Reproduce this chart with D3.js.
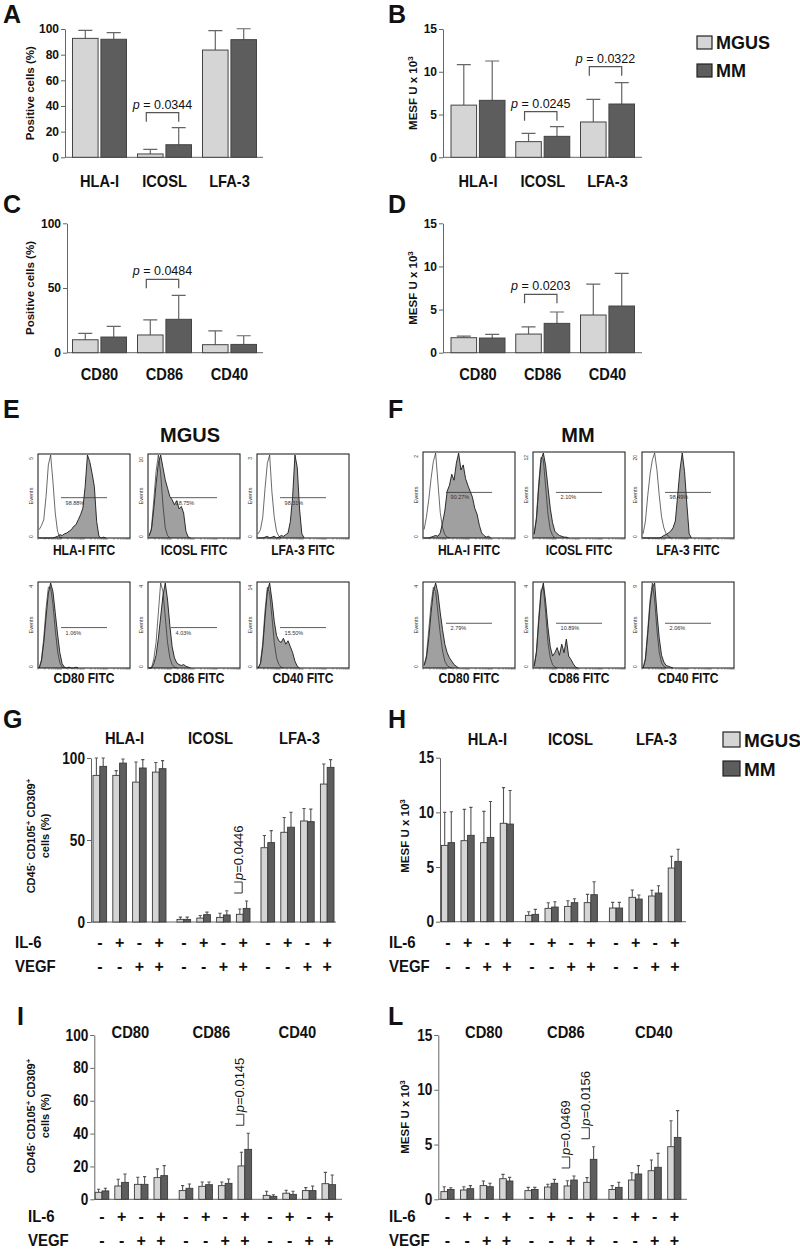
<!DOCTYPE html>
<html><head><meta charset="utf-8">
<script src="https://cdn.jsdelivr.net/npm/d3@7"></script>
<style>
body{margin:0;background:#fff}
svg{display:block}
text{font-family:"Liberation Sans",Arial,Helvetica,sans-serif}
</style>
</head><body>
<svg id="chart" width="800" height="1249"></svg>
<script>
// ---------------- DATA ----------------
const seriesNames = ["MGUS", "MM"];
const markersAB = ["HLA-I", "ICOSL", "LFA-3"];
const markersCD = ["CD80", "CD86", "CD40"];

// Panel A: positive cells (%)
const aMGUS = [92.7, 2.6, 83.6], aMGUSsd = [6.3, 3.6, 15.1];
const aMM = [92.0, 9.8, 91.7], aMMsd = [5.1, 13.3, 8.5];
// Panel B: MESF U x 10^3
const bMGUS = [6.1, 1.83, 4.13], bMGUSsd = [4.73, 0.97, 2.65];
const bMM = [6.66, 2.45, 6.23], bMMsd = [4.6, 1.13, 2.5];
// Panel C
const cMGUS = [10.0, 13.7, 6.2], cMGUSsd = [5.0, 11.6, 10.6];
const cMM = [12.1, 25.8, 6.4], cMMsd = [8.3, 18.5, 6.7];
// Panel D
const dMGUS = [1.74, 2.16, 4.37], dMGUSsd = [0.19, 0.84, 3.59];
const dMM = [1.70, 3.40, 5.41], dMMsd = [0.43, 1.32, 3.79];

// p-value annotations (bracket level in data units)
const pA = [{cat: "ICOSL", p: "0.0344", at: 34.8}];
const pB = [{cat: "ICOSL", p: "0.0245", at: 5.33}, {cat: "LFA-3", p: "0.0322", at: 10.6}];
const pC = [{cat: "CD86", p: "0.0484", at: 56.7}];
const pD = [{cat: "CD86", p: "0.0203", at: 6.77}];

// culture conditions
const il6 = ["-", "+", "-", "+"];
const vegf = ["-", "-", "+", "+"];

// Panel G (% positive), order: group x condition
const gMGUS = [89.4, 89.4, 85.3, 91.4, 1.6, 2.4, 2.8, 4.7, 45.3, 54.7, 61.6, 84.1];
const gMGUSsd = [10.6, 2.9, 12.3, 5.9, 1.4, 1.6, 2.5, 3.2, 7.4, 9.0, 7.6, 12.2];
const gMM = [94.9, 96.9, 93.9, 93.5, 1.6, 4.5, 4.3, 8.3, 48.4, 57.8, 61.2, 94.3];
const gMMsd = [5.1, 2.5, 5.1, 4.9, 1.4, 1.5, 2.6, 4.5, 7.3, 9.1, 7.6, 4.7];
// Panel H (MESF)
const hMGUS = [6.98, 7.41, 7.23, 9.0, 0.58, 1.22, 1.4, 1.74, 1.25, 2.23, 2.35, 4.91];
const hMGUSsd = [3.02, 2.86, 2.86, 3.26, 0.33, 0.52, 0.52, 0.76, 0.52, 0.67, 0.52, 1.07];
const hMM = [7.23, 7.9, 7.71, 8.93, 0.67, 1.34, 1.74, 2.47, 1.25, 2.07, 2.62, 5.52];
const hMMsd = [2.83, 2.56, 3.29, 3.07, 0.46, 0.49, 0.36, 1.19, 0.52, 0.37, 0.67, 1.1];
// Panel I (%)
const iMGUS = [4.26, 8.1, 9.1, 13.2, 5.3, 7.9, 8.3, 20.3, 2.4, 3.7, 5.3, 9.5];
const iMGUSsd = [1.84, 4.1, 4.3, 5.3, 3.0, 2.6, 2.2, 8.3, 2.5, 1.8, 1.8, 6.9];
const iMM = [5.1, 10.3, 9.1, 14.4, 6.7, 8.9, 9.7, 30.4, 1.8, 3.0, 5.3, 8.9];
const iMMsd = [1.6, 5.1, 4.7, 6.1, 2.6, 1.6, 2.7, 9.8, 1.0, 1.9, 2.8, 5.9];
// Panel L (MESF)
const lMGUS = [0.7, 0.85, 1.25, 1.88, 0.79, 1.12, 1.22, 1.55, 0.9, 1.76, 2.61, 4.8];
const lMGUSsd = [0.45, 0.3, 0.42, 0.4, 0.3, 0.25, 0.48, 0.43, 0.35, 0.67, 0.98, 2.37];
const lMM = [0.9, 0.97, 1.15, 1.67, 0.9, 1.46, 1.76, 3.65, 1.09, 2.31, 2.92, 5.65];
const lMMsd = [0.15, 0.28, 0.31, 0.33, 0.19, 0.36, 0.37, 1.15, 0.46, 0.76, 1.27, 2.45];

const pG = [{group: "ICOSL", cond: 3, p: "0.0446"}];
const pI = [{group: "CD86", cond: 3, p: "0.0145"}];
const pL = [{group: "CD86", cond: 2, p: "0.0469"}, {group: "CD86", cond: 3, p: "0.0156"}];

// Flow cytometry histograms (relative counts per bin, 40 bins across the box)
const eHLAfill = [0,0,0,0,0,0,0,1,2,4,3,5,6,8,10,14,16,22,28,36,62,100,92,78,62,20,2,0,1,0];
const eHLAopen = [10,15,22,50,88,100,68,30,8,1,0];
const eICOfill = [3,10,35,65,90,100,85,70,60,50,46,40,45,35,38,30,8,1,0];
const eICOopen = [2,12,45,80,100,78,40,12,3,0];
const eLFAfill = [0,0,0,1,2,0,1,2,0,1,3,2,4,6,20,50,100,85,35,5,0];
const eLFAopen = [5,10,25,60,90,100,55,25,8,2,0];
const eCD80fill = [0,8,30,60,88,100,90,65,40,18,5,1,0,1,0,0,1,0];
const eCD80open = [0,10,35,70,95,95,75,45,20,6,1,0];
const eCD86fill = [0,0,5,15,35,60,85,100,80,50,25,12,6,4,3,4,2,1,0];
const eCD86open = [0,0,10,30,65,100,90,60,30,12,4,1,0];
const eCD40fill = [0,5,25,60,90,100,80,55,38,32,30,35,28,32,25,18,8,2,0];
const eCD40open = [0,6,30,68,95,88,60,30,12,4,1,0];
const fHLAfill = [0,0,0,1,2,3,2,6,18,32,55,62,75,68,88,100,80,86,70,62,55,48,35,28,15,6,3,1,2,0];
const fHLAopen = [10,25,45,70,90,100,65,30,12,4,1,0];
const fICOfill = [5,22,60,92,100,85,60,35,18,8,5,3,2,1,1,0];
const fICOopen = [4,25,65,95,92,60,28,10,3,0];
const fLFAfill = [0,0,0,0,0,0,0,0,1,3,4,6,8,12,20,50,80,100,78,40,5,0];
const fLFAopen = [5,20,50,75,92,100,80,50,25,12,5,2,0];
const fCD80fill = [3,12,35,65,90,100,88,65,45,28,18,12,8,4,2,0];
const fCD80open = [3,15,45,75,95,90,65,40,20,8,3,1,0];
const fCD86fill = [2,18,55,88,100,78,48,25,14,18,24,15,28,18,34,14,10,5,1,0];
const fCD86open = [2,20,60,92,95,65,30,12,4,1,0];
const fCD40fill = [0,10,40,75,95,100,65,35,15,7,3,2,1,0];
const fCD40open = [0,12,45,80,100,80,45,18,6,2,0];

const histLabelsTop = ["HLA-I FITC", "ICOSL FITC", "LFA-3 FITC"];
const histLabelsBottom = ["CD80 FITC", "CD86 FITC", "CD40 FITC"];
const ePct = ["98.88%", "18.75%", "98.31%", "1.06%", "4.03%", "15.50%"];
const fPct = ["90.27%", "2.10%", "98.49%", "2.79%", "10.89%", "2.06%"];
const eMax = ["5", "10", "3", "4", "4", "14"];
const fMax = ["2", "12", "20", "4", "4", "9"];

// ---------------- DRAWING ----------------
const svg = d3.select("#chart");
const colors = {MGUS: "#d5d5d5", MM: "#5d5d5d"};
const AX = "#666";

function squeeze(sel, f) {
  sel.each(function () {
    const L = this.getComputedTextLength();
    d3.select(this).attr("textLength", L * f).attr("lengthAdjust", "spacingAndGlyphs");
  });
}
function T(p, x, y, s, size, o = {}) {
  const t = p.append("text").attr("x", x).attr("y", y)
    .attr("font-size", size)
    .attr("font-weight", o.weight || "bold")
    .attr("text-anchor", o.anchor || "middle")
    .attr("fill", o.fill || "#111")
    .text(s);
  if (o.squeeze) squeeze(t, o.squeeze);
  return t;
}
function mesfTitle(p, x, y) {
  const t = p.append("text").attr("x", x).attr("y", y).attr("dy", "0.35em")
    .attr("transform", `rotate(-90,${x},${y})`).attr("text-anchor", "middle")
    .attr("font-size", 11.5).attr("font-weight", "bold").attr("fill", "#111");
  t.append("tspan").text("MESF U x 10");
  t.append("tspan").attr("dy", -4).attr("font-size", 8).text("3");
  return t;
}
function cellsTitle(p, x, y) {
  const t = p.append("text").attr("x", x).attr("y", y).attr("dy", "0.35em")
    .attr("transform", `rotate(-90,${x},${y})`).attr("text-anchor", "middle")
    .attr("font-size", 11).attr("font-weight", "bold").attr("fill", "#111");
  const parts = [["CD45", 0], ["-", 1], [" CD105", 0], ["+", 1], [" CD309", 0], ["+", 1]];
  let up = false;
  parts.forEach(([s, sup]) => {
    const ts = t.append("tspan").text(s);
    if (sup) { ts.attr("dy", -4).attr("font-size", 8); up = true; }
    else if (up) { ts.attr("dy", 4); up = false; }
  });
  const x2 = x + 14.5;
  p.append("text").attr("x", x2).attr("y", y).attr("dy", "0.35em")
    .attr("transform", `rotate(-90,${x2},${y})`).attr("text-anchor", "middle")
    .attr("font-size", 11).attr("font-weight", "bold").attr("fill", "#111").text("cells (%)");
}
function styleAxis(ax, size, sq) {
  ax.selectAll("path,line").attr("stroke", AX);
  const tx = ax.selectAll("text").attr("font-size", size).attr("font-weight", "bold").attr("fill", "#111");
  if (sq) squeeze(tx, sq);
}

// simple 3-category grouped bar panel (A-D)
function simplePanel(o) {
  const g = svg.append("g");
  const y = d3.scaleLinear().domain([0, o.yMax]).range([o.yBot, o.yTop]);
  const x = d3.scaleBand().domain(o.cats).range([o.first - o.step / 2, o.first + o.step * 2.5]);
  const xs = d3.scaleBand().domain(seriesNames).range([-27, 27]).paddingInner(0.1);
  const ax = g.append("g").attr("transform", `translate(${o.axisX},0)`)
    .call(d3.axisLeft(y).tickValues(o.ticks).tickSize(4).tickSizeOuter(0).tickPadding(2));
  styleAxis(ax, 12);
  g.append("line").attr("x1", o.axisX).attr("x2", o.xEnd).attr("y1", y(0)).attr("y2", y(0)).attr("stroke", AX);
  const rows = [];
  o.cats.forEach((c, i) => {
    rows.push({c, s: "MGUS", v: o.mg[i], sd: o.mgSD[i]});
    rows.push({c, s: "MM", v: o.mm[i], sd: o.mmSD[i]});
  });
  const bx = d => x(d.c) + x.bandwidth() / 2 + xs(d.s);
  g.selectAll("path.err").data(rows).join("path").attr("class", "err")
    .attr("d", d => {
      const cx = bx(d) + xs.bandwidth() / 2, t = y(d.v + d.sd);
      return `M${cx},${y(d.v)}V${t}M${cx - 7},${t}H${cx + 7}`;
    }).attr("stroke", AX).attr("stroke-width", 1.2).attr("fill", "none");
  g.selectAll("rect.bar").data(rows).join("rect").attr("class", "bar")
    .attr("x", bx).attr("width", xs.bandwidth())
    .attr("y", d => y(d.v)).attr("height", d => y(0) - y(d.v))
    .attr("fill", d => colors[d.s]).attr("stroke", "#444").attr("stroke-width", 1);
  o.cats.forEach(c => T(g, x(c) + x.bandwidth() / 2, o.labelY, c, 17, {squeeze: 0.86}));
  if (o.titleType === "pct") {
    g.append("text").attr("x", o.titleX).attr("y", (o.yTop + o.yBot) / 2).attr("dy", "0.35em")
      .attr("transform", `rotate(-90,${o.titleX},${(o.yTop + o.yBot) / 2})`)
      .attr("text-anchor", "middle").attr("font-size", 11.5).attr("font-weight", "bold").attr("fill", "#111")
      .text("Positive cells (%)");
  } else {
    mesfTitle(g, o.titleX, (o.yTop + o.yBot) / 2);
  }
  o.pAnn.forEach(a => {
    const x1 = x(a.cat) + x.bandwidth() / 2 + xs("MGUS") + xs.bandwidth() / 2 - 4;
    const x2 = x(a.cat) + x.bandwidth() / 2 + xs("MM") + xs.bandwidth() / 2;
    const yy = y(a.at);
    g.append("path").attr("d", `M${x1},${yy + 9}V${yy}H${x2}V${yy + 9}`)
      .attr("fill", "none").attr("stroke", "#555").attr("stroke-width", 1.2);
    const t = g.append("text").attr("x", (x1 + x2) / 2).attr("y", yy - 4).attr("text-anchor", "middle")
      .attr("font-size", 12.5).attr("fill", "#111");
    t.append("tspan").attr("font-style", "italic").text("p");
    t.append("tspan").text(" = " + a.p);
  });
}

// 3 groups x 4 conditions x 2 series (G-L)
function groupedPanel(o) {
  const g = svg.append("g");
  const y = d3.scaleLinear().domain([0, o.yMax]).range([o.yBot, o.yTop]);
  const gx = d3.scaleBand().domain(o.groups)
    .range([o.first - o.pairStep / 2, o.first - o.pairStep / 2 + 3 * o.groupStep]);
  const cx = d3.scaleBand().domain(d3.range(4)).range([0, 4 * o.pairStep]);
  const sx = d3.scaleBand().domain(seriesNames).range([-o.barW, o.barW]);
  const center = k => gx(o.groups[Math.floor(k / 4)]) + cx(k % 4) + cx.bandwidth() / 2;

  const ax = g.append("g").attr("transform", `translate(${o.axisX},0)`)
    .call(d3.axisLeft(y).tickValues(o.ticks).tickSize(4).tickSizeOuter(0).tickPadding(2));
  styleAxis(ax, 16, 0.85);
  g.append("line").attr("x1", o.axisX).attr("x2", o.xEnd).attr("y1", y(0)).attr("y2", y(0)).attr("stroke", AX);

  const rows = [];
  d3.range(12).forEach(k => {
    rows.push({k, s: "MGUS", v: o.mg[k], sd: o.mgSD[k]});
    rows.push({k, s: "MM", v: o.mm[k], sd: o.mmSD[k]});
  });
  const bx = d => center(d.k) + sx(d.s);
  g.selectAll("path.err").data(rows).join("path").attr("class", "err")
    .attr("d", d => {
      const c = bx(d) + sx.bandwidth() / 2, t = y(d.v + d.sd);
      return `M${c},${y(d.v)}V${t}M${c - 1.6},${t}H${c + 1.6}`;
    }).attr("stroke", "#555").attr("stroke-width", 1.1).attr("fill", "none");
  g.selectAll("rect.bar").data(rows).join("rect").attr("class", "bar")
    .attr("x", bx).attr("width", sx.bandwidth())
    .attr("y", d => y(d.v)).attr("height", d => y(0) - y(d.v))
    .attr("fill", d => colors[d.s]).attr("stroke", "#3a3a3a").attr("stroke-width", 0.9);

  o.groups.forEach((gr, i) => T(g, gx(gr) + 2 * o.pairStep + o.headOff[i], o.headY, gr, 16, {squeeze: 0.92}));
  d3.range(12).forEach(k => {
    T(g, center(k), o.signY[0], il6[k % 4], 16);
    T(g, center(k), o.signY[1], vegf[k % 4], 16);
  });
  T(g, o.labelX, o.signY[0], "IL-6", 17, {anchor: "start", squeeze: 0.88});
  T(g, o.labelX, o.signY[1], "VEGF", 17, {anchor: "start", squeeze: 0.88});

  if (o.titleType === "pct") cellsTitle(g, o.titleX, o.titleY);
  else mesfTitle(g, o.titleX, o.titleY);

  o.pAnn.forEach(a => {
    const k = o.groups.indexOf(a.group) * 4 + a.cond;
    const pc = center(k);
    const top = Math.max(o.mg[k] + o.mgSD[k], o.mm[k] + o.mmSD[k]);
    const yb = y(top) - 8, yt = yb - 11;
    g.append("path").attr("d", `M${pc - 9},${yt}H${pc - 1}V${yb}H${pc - 9}`)
      .attr("fill", "none").attr("stroke", "#333").attr("stroke-width", 1);
    const tx = pc - 5, ty = yt - 2;
    const t = g.append("text").attr("x", tx).attr("y", ty).attr("dy", "0.35em")
      .attr("transform", `rotate(-90,${tx},${ty})`).attr("text-anchor", "start")
      .attr("font-size", 13).attr("fill", "#111");
    t.append("tspan").attr("font-style", "italic").text("p");
    t.append("tspan").text("=" + a.p);
  });
}

function legend(x, y1, y2, bw, bh, size) {
  const g = svg.append("g");
  [["MGUS", y1], ["MM", y2]].forEach(([s, yy]) => {
    g.append("rect").attr("x", x).attr("y", yy - bh).attr("width", bw).attr("height", bh)
      .attr("fill", colors[s]).attr("stroke", "#222").attr("stroke-width", 1.2);
    T(g, x + bw + 4, yy, s, size, {anchor: "start"});
  });
}

function histPanel(o) {
  const g = svg.append("g");
  const xs = d3.scaleLinear().domain([0, 40]).range([o.x, o.x + o.w]);
  const ys = d3.scaleLinear().domain([0, 100]).range([o.y + o.h, o.y + 1]);
  const area = d3.area().x((d, i) => xs(i + 0.5)).y0(ys(0)).y1(d => ys(d));
  const line = d3.line().x((d, i) => xs(i + 0.5)).y(d => ys(d));
  g.append("path").datum(o.fill).attr("d", area).attr("fill", "#a0a0a0");
  g.append("path").datum(o.fill).attr("d", line).attr("fill", "none").attr("stroke", "#1a1a1a").attr("stroke-width", 0.9);
  g.append("path").datum(o.open).attr("d", line).attr("fill", "none").attr("stroke", "#2a2a2a").attr("stroke-width", 0.7);
  g.append("rect").attr("x", o.x).attr("y", o.y).attr("width", o.w).attr("height", o.h)
    .attr("fill", "none").attr("stroke", "#111").attr("stroke-width", 1);
  const ly = o.y + o.h * o.lineFrac;
  g.append("line").attr("x1", o.x + o.w * 0.25).attr("x2", o.x + o.w * 0.75).attr("y1", ly).attr("y2", ly)
    .attr("stroke", "#333").attr("stroke-width", 0.8);
  T(g, o.x + o.w * 0.3, ly + 7, o.pct, 5.5, {anchor: "start", weight: "normal", fill: "#333"});
  // log-scale fluorescence ticks along the bottom
  const lg = d3.scaleLog().domain([1, 1e4]).range([o.x, o.x + o.w]);
  g.selectAll("line.tk").data(lg.ticks()).join("line").attr("class", "tk")
    .attr("x1", d => lg(d)).attr("x2", d => lg(d)).attr("y1", o.y + o.h).attr("y2", o.y + o.h + 1.8)
    .attr("stroke", "#444").attr("stroke-width", 0.5);
  const ex = o.x - 5;
  const ey = o.y + o.h / 2;
  g.append("text").attr("x", ex).attr("y", ey).attr("transform", `rotate(-90,${ex},${ey})`)
    .attr("text-anchor", "middle").attr("font-size", 5.5).attr("fill", "#333").text("Events");
  const tyy = o.y + 3;
  g.append("text").attr("x", ex).attr("y", tyy).attr("transform", `rotate(-90,${ex},${tyy})`)
    .attr("text-anchor", "end").attr("font-size", 5).attr("fill", "#333").text(o.top);
  const zy = o.y + o.h;
  g.append("text").attr("x", ex).attr("y", zy).attr("transform", `rotate(-90,${ex},${zy})`)
    .attr("text-anchor", "start").attr("font-size", 5).attr("fill", "#333").text("0");
  T(g, o.x + o.w / 2, o.labelY, o.label, 14, {squeeze: 0.86});
}

// ---- panel letters ----
[["A", 3, 23], ["B", 388, 23], ["C", 3, 213], ["D", 388, 213], ["E", 3, 418], ["F", 388, 418],
 ["G", 3, 728], ["H", 388, 728], ["I", 17, 1025], ["L", 388, 1025]]
  .forEach(([s, x, y]) => T(svg, x, y, s, 25, {anchor: "start"}));

// ---- A-D ----
simplePanel({cats: markersAB, mg: aMGUS, mgSD: aMGUSsd, mm: aMM, mmSD: aMMsd, yMax: 100, ticks: [0, 20, 40, 60, 80, 100],
  yTop: 29, yBot: 157.3, axisX: 65, xEnd: 263, first: 99.5, step: 65, labelY: 187, titleType: "pct", titleX: 30, pAnn: pA});
simplePanel({cats: markersAB, mg: bMGUS, mgSD: bMGUSsd, mm: bMM, mmSD: bMMsd, yMax: 15, ticks: [0, 5, 10, 15],
  yTop: 29, yBot: 157.3, axisX: 443, xEnd: 642, first: 478, step: 64.75, labelY: 187, titleType: "mesf", titleX: 412.5, pAnn: pB});
simplePanel({cats: markersCD, mg: cMGUS, mgSD: cMGUSsd, mm: cMM, mmSD: cMMsd, yMax: 100, ticks: [0, 50, 100],
  yTop: 223.3, yBot: 352.7, axisX: 67, xEnd: 263, first: 99.5, step: 65, labelY: 380, titleType: "pct", titleX: 30, pAnn: pC});
simplePanel({cats: markersCD, mg: dMGUS, mgSD: dMGUSsd, mm: dMM, mmSD: dMMsd, yMax: 15, ticks: [0, 5, 10, 15],
  yTop: 223.3, yBot: 352.7, axisX: 443, xEnd: 642, first: 478, step: 64.75, labelY: 380, titleType: "mesf", titleX: 412.5, pAnn: pD});
legend(697, 49, 77, 15, 13, 18);

// ---- E / F histograms ----
T(svg, 190, 442, "MGUS", 20);
T(svg, 578, 442, "MM", 20);
const eFill = [eHLAfill, eICOfill, eLFAfill, eCD80fill, eCD86fill, eCD40fill];
const eOpen = [eHLAopen, eICOopen, eLFAopen, eCD80open, eCD86open, eCD40open];
const fFill = [fHLAfill, fICOfill, fLFAfill, fCD80fill, fCD86fill, fCD40fill];
const fOpen = [fHLAopen, fICOopen, fLFAopen, fCD80open, fCD86open, fCD40open];
const histLabels = histLabelsTop.concat(histLabelsBottom);
const eCols = [38, 148, 257], fCols = [423, 533, 642];
const rowsY = [[454, 84, 555], [582, 86, 683]];
const eFrac = [0.52, 0.53], fFrac = [0.47, 0.48];
d3.range(6).forEach(i => {
  const r = Math.floor(i / 3), c = i % 3;
  histPanel({x: eCols[c], y: rowsY[r][0], w: 92, h: rowsY[r][1], labelY: rowsY[r][2], lineFrac: eFrac[r],
    fill: eFill[i], open: eOpen[i], pct: ePct[i], top: eMax[i], label: histLabels[i]});
  histPanel({x: fCols[c], y: rowsY[r][0] - (r === 0 ? 2 : 0), w: 92, h: rowsY[r][1] + (r === 0 ? 2 : 0), labelY: rowsY[r][2], lineFrac: fFrac[r],
    fill: fFill[i], open: fOpen[i], pct: fPct[i], top: fMax[i], label: histLabels[i]});
});

// ---- G, H, I, L ----
groupedPanel({groups: markersAB, mg: gMGUS, mgSD: gMGUSsd, mm: gMM, mmSD: gMMsd, yMax: 100, ticks: [0, 50, 100],
  yTop: 758, yBot: 922, axisX: 91, xEnd: 336, first: 99.8, pairStep: 19.8, groupStep: 84, barW: 6.8,
  headOff: [-5, -3, 2], headY: 744, signY: [948, 972], labelX: 15, titleType: "pct", titleX: 31, titleY: 836, pAnn: pG});
groupedPanel({groups: markersAB, mg: hMGUS, mgSD: hMGUSsd, mm: hMM, mmSD: hMMsd, yMax: 15, ticks: [0, 5, 10, 15],
  yTop: 757.7, yBot: 921.7, axisX: 440, xEnd: 686, first: 448, pairStep: 19.6, groupStep: 84, barW: 6.6,
  headOff: [10, 9, 11], headY: 745, signY: [948, 972], labelX: 389, titleType: "mesf", titleX: 405, titleY: 836, pAnn: []});
groupedPanel({groups: markersCD, mg: iMGUS, mgSD: iMGUSsd, mm: iMM, mmSD: iMMsd, yMax: 100, ticks: [0, 20, 40, 60, 80, 100],
  yTop: 1035, yBot: 1199.3, axisX: 94.3, xEnd: 342, first: 102, pairStep: 19.6, groupStep: 84, barW: 6.8,
  headOff: [-1, -4, -2], headY: 1038, signY: [1222, 1246], labelX: 28, titleType: "pct", titleX: 31, titleY: 1116, pAnn: pI});
groupedPanel({groups: markersCD, mg: lMGUS, mgSD: lMGUSsd, mm: lMM, mmSD: lMMsd, yMax: 15, ticks: [0, 5, 10, 15],
  yTop: 1035, yBot: 1199.3, axisX: 438.3, xEnd: 687, first: 447.5, pairStep: 19.6, groupStep: 84, barW: 6.6,
  headOff: [7, 5, 9], headY: 1038, signY: [1222, 1246], labelX: 389, titleType: "mesf", titleX: 405, titleY: 1117, pAnn: pL});
legend(723, 747, 776, 17, 15, 19);
</script>
</body></html>
